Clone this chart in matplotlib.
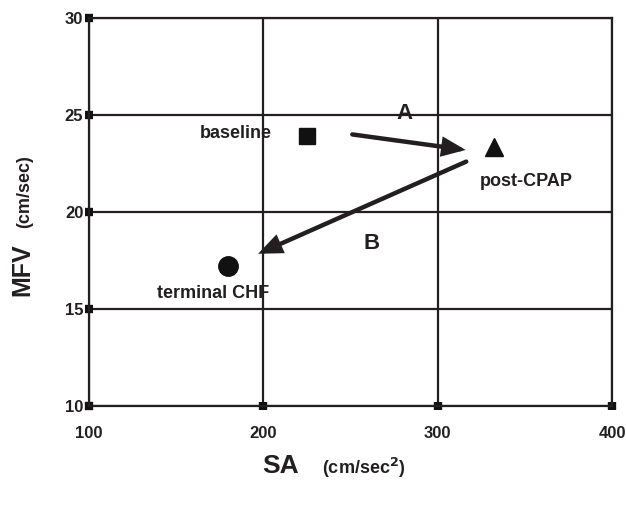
import matplotlib
matplotlib.use("Agg")
import matplotlib.pyplot as plt

plt.rcParams['font.family'] = ['Liberation Sans', 'DejaVu Sans']

labels = ["baseline", "post-CPAP", "terminal CHF"]
sa = [225, 332, 180]
mfv = [23.9, 23.35, 17.2]
markers = ["s", "^", "o"]
msizes = [11, 13, 14]
xticks = [100, 200, 300, 400]
yticks = [10, 15, 20, 25, 30]

ink = '#231f20'

fig = plt.figure(figsize=(6.26, 5.07), dpi=100)
ax = fig.add_axes([0.142, 0.199, 0.836, 0.7655])
ax.set_xlim(100, 400)
ax.set_ylim(10, 30)
ax.set_xticks(xticks)
ax.set_yticks(yticks)
ax.set_xticklabels([str(v) for v in xticks], fontsize=12, fontweight='bold', color=ink)
ax.set_yticklabels([str(v) for v in yticks], fontsize=12, fontweight='bold', color=ink)
ax.grid(True, color=ink, linewidth=1.6)
ax.set_axisbelow(True)
for s in ax.spines.values():
    s.set_color(ink)
    s.set_linewidth(1.6)
ax.tick_params(axis='both', direction='inout', length=6, width=6, color='#111111')
ax.tick_params(axis='x', pad=11)
ax.tick_params(axis='y', pad=1)

for x, y, m, ms in zip(sa, mfv, markers, msizes):
    ax.plot([x], [y], marker=m, color='#111111', markersize=ms, linestyle='none')

arrow_kw = dict(arrowstyle='-|>,head_length=1.2,head_width=0.5', color=ink, lw=3.2,
                shrinkA=0, shrinkB=0, joinstyle='miter')
ax.annotate('', xy=(316, 23.2), xytext=(251, 24.0), arrowprops=arrow_kw)
ax.annotate('', xy=(197, 17.85), xytext=(316.3, 22.6), arrowprops=arrow_kw)

tkw = dict(fontweight='bold', color=ink, ha='center', va='center')
ax.text(184.3, 24.07, labels[0], fontsize=13, **tkw)
ax.text(350.7, 21.55, labels[1], fontsize=13, **tkw)
ax.text(171, 15.82, labels[2], fontsize=13, **tkw)
ax.text(281, 25.1, "A", fontsize=16, **tkw)
ax.text(262, 18.4, "B", fontsize=16, **tkw)

fig.text(281/626, 1 - 466/507, "SA", fontsize=19, fontweight='bold', color=ink, ha='center', va='center')
fig.text(364/626, 1 - 468/507, r"(cm/sec$^{\mathbf{2}}$)", fontsize=13, fontweight='bold', color=ink, ha='center', va='center')
fig.text(22/626, 1 - 270/507, "MFV", fontsize=18, fontweight='bold', color=ink, ha='center', va='center', rotation=90)
fig.text(25/626, 1 - 192/507, "(cm/sec)", fontsize=13, fontweight='bold', color=ink, ha='center', va='center', rotation=90)

fig.savefig("out.png", dpi=100)
